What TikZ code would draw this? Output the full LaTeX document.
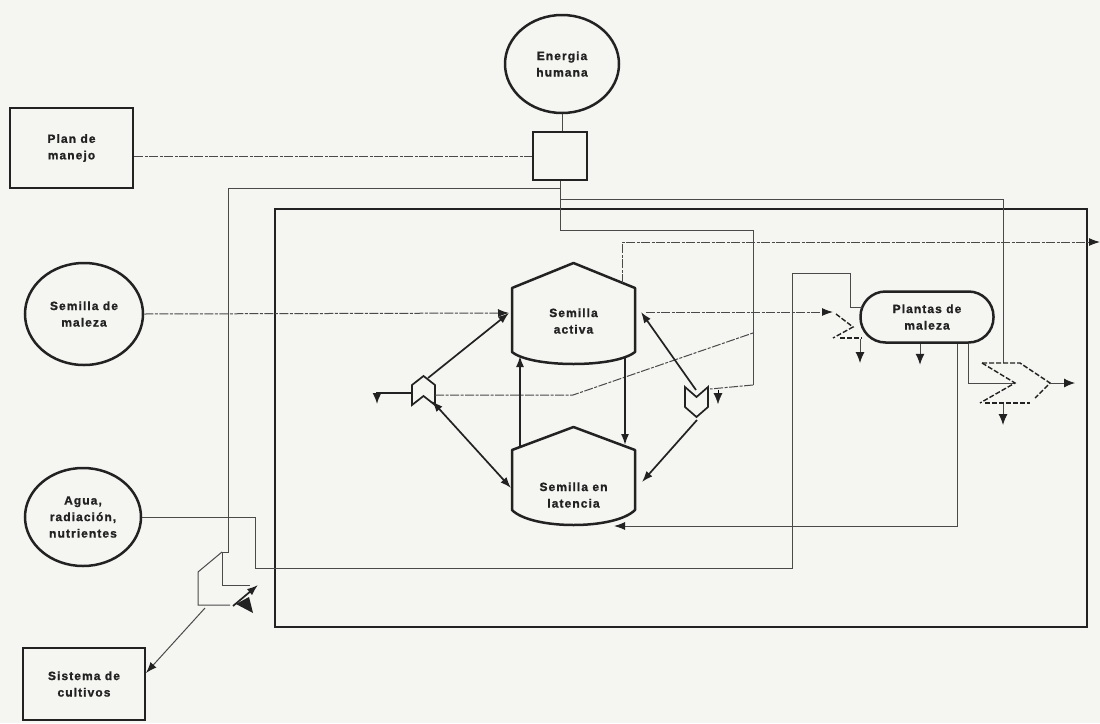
\documentclass[tikz,border=0pt]{standalone}
\usepackage{fontspec}
\setmainfont{Liberation Sans}[LetterSpace=9, BoldFeatures={FakeBold=1.2}]
\usetikzlibrary{shapes.geometric,arrows.meta,calc}
\definecolor{ink}{HTML}{222222}
\definecolor{wirec}{HTML}{4A4A4A}
\definecolor{paper}{HTML}{F5F5F2}
\begin{document}
\begin{tikzpicture}[x=1pt,y=-1pt,
  lbl/.style={font=\bfseries\fontsize{12}{16.5}\selectfont, align=center, text=ink, inner sep=0pt},
  circ/.style={ellipse, draw=ink, line width=2.5pt, fill=paper, lbl},
  boxn/.style={rectangle, draw=ink, line width=2.5pt, fill=paper, lbl},
  tank/.style={draw=ink, line width=2.5pt, fill=paper, line join=round},
  sym/.style={draw=ink, line width=1.7pt, fill=paper, line join=miter},
  wire/.style={draw=wirec, line width=1pt},
  dwire/.style={wire, dash pattern=on 9pt off 1.5pt on 3pt off 1.5pt},
  dsym/.style={draw=ink, line width=1.4pt, dash pattern=on 5pt off 2pt},
  flow/.style={draw=ink, line width=1.7pt},
  tip/.style={-{Latex[length=11pt,width=8pt,color=ink]}},
  drain/.style={-{Latex[length=11pt,width=9pt,color=ink]}}
]
\fill[paper] (0,0) rectangle (1100,723);
\useasboundingbox (0,0) rectangle (1100,723);

% system frame
\draw[ink, line width=2.8pt] (275,209) rectangle (1087,627);

% external sources and boxes
\node[circ, minimum width=114pt, minimum height=98pt] (eh) at (562,64) {Energia\\humana};
\node[boxn, minimum width=54pt, minimum height=48pt] (sq) at (560,156) {};
\node[boxn, minimum width=123pt, minimum height=80pt] (plan) at (71.5,148) {Plan de\\manejo};
\node[circ, minimum width=118pt, minimum height=102pt] (smz) at (84,314) {Semilla de\\maleza};
\node[circ, minimum width=116pt, minimum height=98pt] (agua) at (83,517) {Agua,\\radiación,\\nutrientes};
\node[boxn, minimum width=122pt, minimum height=72pt] (sist) at (84,684) {Sistema de\\cultivos};

% storages
\draw[tank] (512,352) -- (512,288) -- (573.5,263) -- (635,288) -- (635,352)
  .. controls (615,368) and (532,368) .. cycle;
\node[lbl, minimum width=123pt, minimum height=64pt] (act) at (573.5,321) {Semilla\\activa};
\draw[tank] (512,510) -- (512,450) -- (573.5,427) -- (635,450) -- (635,510)
  .. controls (615,530) and (532,530) .. cycle;
\node[lbl, minimum width=123pt, minimum height=64pt] (lat) at (573.5,495) {Semilla en\\latencia};

% plants
\node[lbl, draw=ink, line width=2.5pt, fill=paper, rounded corners=25pt,
      minimum width=133pt, minimum height=51pt] (pm) at (927,317) {Plantas de\\maleza};

% switch symbols
\draw[sym] (412,385) -- (423.5,376) -- (435,385) -- (435,405) -- (423.5,396) -- (412,405) -- cycle;
\node[minimum width=23pt, minimum height=29pt, inner sep=0pt] (cl) at (423.5,391) {};
\draw[sym] (685,387) -- (696.5,397) -- (708,387) -- (708,407) -- (696.5,417) -- (685,407) -- cycle;
\node[minimum width=23pt, minimum height=30pt, inner sep=0pt] (vs) at (696.5,402) {};

% named ports
\coordinate (actW) at (509,313);
\coordinate (actE) at (641,312);
\coordinate (actNE) at (622,283);
\coordinate (latW) at (511,488);
\coordinate (latE) at (642,482);
\coordinate (latB) at (614,526);
\coordinate (clNE) at (428,378);
\coordinate (clSE) at (432,401);
\coordinate (clE) at (435,395);
\coordinate (clW) at (412,393);
\coordinate (vsN) at (696,390);
\coordinate (vsS) at (697,420);
\coordinate (vsE) at (710,389);
\coordinate (j1) at (560,188);
\coordinate (j2) at (560,199);
\coordinate (j3) at (560,230);
\coordinate (pmW) at (862,307);
\coordinate (pmI) at (833,312);
\coordinate (sistE) at (146,673);
\coordinate (tr) at (205,608);
\coordinate (hv) at (1015,383);
\coordinate (exR) at (1100,242);

% energy / control
\draw[wire] (eh.south) -- (eh.south |- sq.north);
\draw[dwire] (plan.east |- sq.west) -- (sq.west);
\draw[wire] (sq.south) -- (j3) -- (753,230) -- (753,385);
\draw[dwire] (753,385) -- (vsE);
\draw[drain] (718,390) -- (718,404);
\draw[wire] (j1) -- (228,188) -- (228,552) -- (222,552) -- (222,585) -- (250,585);
\draw[wire] (222,552) -- (198,572) -- (198,605) -- (230,605);
\draw[flow, tip] (233,606) -- (258,585);
\fill[ink] (236,604) -- (253,613) -- (249,597) -- cycle;
\draw[wire, tip] (tr) -- (sistE);
\draw[wire] (j2) -- (1003,199) -- (1003,363);

% inputs
\draw[dwire, tip] (smz.east) -- (actW);
\draw[wire] (agua.east) -- (255,517) -- (255,568) -- (792,568) -- (792,273) -- (850,273) -- (850,307) -- (pmW);

% seed flows
\draw[flow, tip] (clNE) -- (actW);
\draw[flow, {Latex[length=11pt,width=8pt]}-{Latex[length=11pt,width=8pt]}] (clSE) -- (latW);
\draw[flow, drain] (clW) -- (377,393) -- (377,404);
\draw[dwire] (clE) -- (573,395) -- (753,333);
\draw[flow, tip] (520,446) -- (520,356);
\draw[flow, tip] (625,357) -- (625,445);
\draw[flow, tip] (vsN) -- (actE);
\draw[flow, tip] (vsS) -- (latE);
\draw[dwire, tip] (actNE) -- (622,242) -- (exR);

% to plants
\draw[dwire, tip] (646,312) -- (pmI);
\draw[dsym] (836,314) -- (853,327) -- (833,338);
\draw[dsym] (840,338) -- (862,338);
\draw[wire, drain] (860,339) -- (860,363);
\draw[wire, drain] ([xshift=-7pt]pm.south) -- ++(0,21);
\draw[wire, tip] ([xshift=30pt]pm.south) -- (957,526) -- (latB);
\draw[wire] ([xshift=41pt]pm.south) -- (968,383) -- (hv);

% harvest
\draw[dsym] (982,363) -- (1020,363) -- (1050,383) -- (1035,398);
\draw[dsym] (982,363) -- (hv) -- (980,403);
\draw[dsym] (985,403) -- (1030,403);
\draw[wire, drain] (1050,383) -- (1075,383);
\draw[wire, drain] (1003,404) -- (1003,425);
\end{tikzpicture}
\end{document}
